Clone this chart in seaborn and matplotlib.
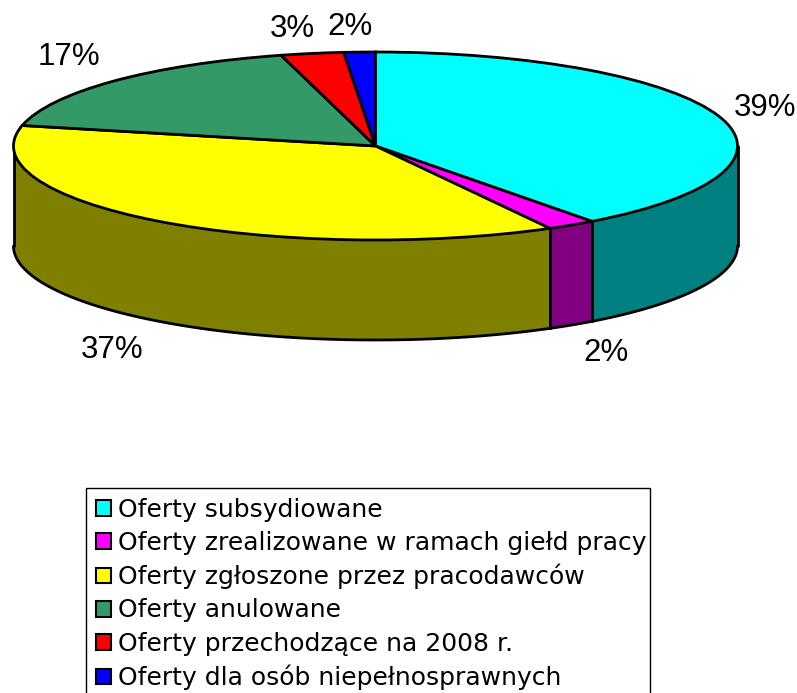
import numpy as np
import seaborn as sns
from matplotlib import pyplot as plt
from matplotlib.patches import Patch, Rectangle

# slices, clockwise from 12 o'clock
categories = ['Oferty subsydiowane', 'Oferty zrealizowane w ramach giełd pracy',
              'Oferty zgłoszone przez pracodawców', 'Oferty anulowane',
              'Oferty przechodzące na 2008 r.', 'Oferty dla osób niepełnosprawnych']
shares = [39.8, 2.2, 36.5, 17.3, 2.8, 1.4]
pct_labels = ['39%', '2%', '37%', '17%', '3%', '2%']
top_colors = ['#00ffff', '#ff00ff', '#ffff00', '#339966', '#ff0000', '#0000ff']
side_colors = ['#008080', '#800080', '#808000', '#1a4d33', '#800000', '#000080']
label_px = [(765, 108), (606, 353), (112, 350), (69, 57), (292, 29), (350, 27)]

W, H = 797, 693
CX, CY, RX, RY, DEPTH = 375.5, 146, 362, 94, 100

sns.set_theme(style='white')
plt.rcParams['font.family'] = ['DejaVu Sans']

fig = plt.figure(figsize=(W / 100, H / 100), dpi=100)
ax = fig.add_axes([0, 0, 1, 1])


def px_x(x):
    return (x - CX) / RX


def px_y(y):
    return (CY - y) / RY


# side wall first, only the front half of each slice shows
edges = np.concatenate([[0], np.cumsum(shares)]) / np.sum(shares) * 2 * np.pi
drop = DEPTH / RY
for start, stop, color in zip(edges[:-1], edges[1:], side_colors):
    lo, hi = max(start, np.pi / 2), min(stop, 3 * np.pi / 2)
    if lo >= hi:
        continue
    t = np.linspace(lo, hi, 120)
    xs, ys = np.sin(t), np.cos(t)
    ax.fill_between(xs, ys, ys - drop, color=color, lw=0, zorder=1)
    ax.plot(xs, ys - drop, color='black', lw=2, zorder=2)
    for end in (lo, hi):
        ax.plot([np.sin(end)] * 2, [np.cos(end), np.cos(end) - drop], color='black', lw=2, zorder=2)

wedges, _ = ax.pie(shares, colors=top_colors, startangle=90, counterclock=False, radius=1,
                   wedgeprops={'edgecolor': 'black', 'linewidth': 2, 'zorder': 3})
ax.set_aspect('auto')
ax.set_xlim(px_x(0), px_x(W))
ax.set_ylim(px_y(H), px_y(0))
ax.axis('off')

for text, (x, y) in zip(pct_labels, label_px):
    ax.text(px_x(x), px_y(y), text, fontsize=22.5, family='Liberation Sans',
            ha='center', va='center', color='black')

# legend box runs off the bottom of the picture, so it is drawn on its own
fig.add_artist(Rectangle((86 / W, -0.02), 564 / W, 1.02 - 488 / H, transform=fig.transFigure,
                         facecolor='white', edgecolor='black', linewidth=1))
handles = [Patch(facecolor=c, edgecolor='black', linewidth=1.5) for c in top_colors]
leg = fig.legend(handles, categories, loc='upper left', bbox_to_anchor=(95.5 / W, 1 - 497.5 / H),
                 borderaxespad=0, fontsize=18, frameon=False,
                 handlelength=0.6, handleheight=0.6, handletextpad=0.32,
                 labelspacing=0.366, borderpad=0, labelcolor='black')

fig.savefig('out.png', dpi=100)
